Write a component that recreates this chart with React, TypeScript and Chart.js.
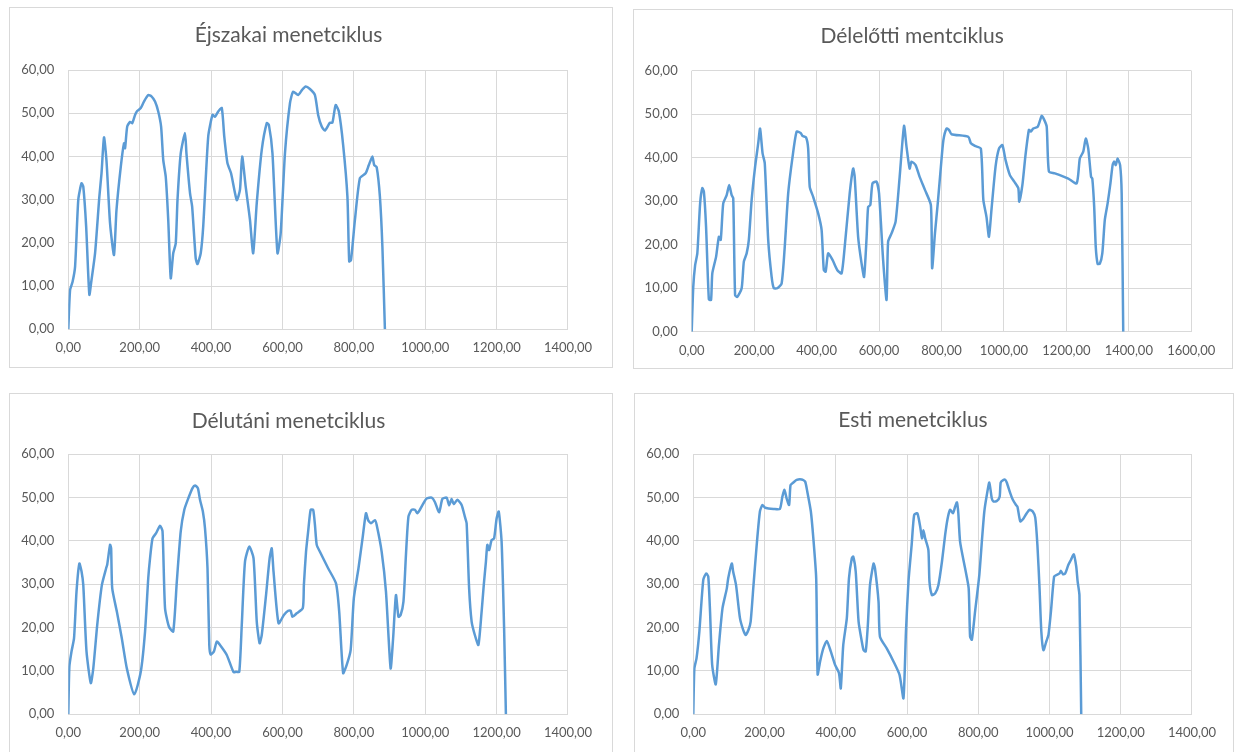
import React, { useEffect, useRef } from "react";
import { Chart, registerables } from "chart.js";

Chart.register(...registerables);

// Éjszakai menetciklus (night drive cycle): time [s] vs speed [km/h]
const nightX = [
  0, 5, 12, 19, 28, 37, 42, 50, 59, 65,
  75, 87, 93, 100, 107, 117, 128, 135, 147, 156,
  159, 165, 173, 179, 187, 193, 203, 212, 224, 233,
  243, 252, 260, 266, 273, 280, 287, 294, 301, 306,
  315, 327, 331, 341, 347, 357, 362, 371, 378, 392,
  404, 411, 420, 430, 437, 446, 456, 472, 481, 487,
  497, 509, 518, 528, 542, 556, 562, 572, 586, 595,
  607, 621, 630, 644, 655, 665, 677, 691, 700, 710,
  719, 733, 740, 749, 758, 770, 782, 787, 792, 803,
  817, 833, 842, 852, 857, 864, 873, 880, 887,
];
const nightY = [
  0, 9.1, 11, 14.5, 30, 33.8, 33, 23.8, 8, 11.4,
  17.6, 30.7, 36, 44.4, 39, 24.5, 17.2, 27.6, 37.6, 43,
  41.9, 46.9, 48, 47.7, 49.6, 50.5, 51.2, 52.7, 54.2, 53.9,
  52.7, 50.4, 46.9, 39.2, 35.3, 25.3, 11.8, 17.6, 19.9, 30,
  40.7, 45.4, 40.7, 31.5, 28.4, 16.4, 15.1, 17.6, 23.8, 44.6,
  49.6, 49.2, 50.4, 51.2, 44.6, 38.4, 36.1, 29.9, 32.3, 40,
  33, 25.3, 17.6, 29.2, 41.5, 47.7, 47.3, 40.7, 17.6, 22.2,
  40.7, 52.3, 55, 54.2, 55.4, 56.2, 55.6, 54.2, 49.6, 46.9,
  46, 47.8, 47.8, 51.9, 50.4, 42.7, 30.7, 15.7, 16, 25.3,
  35, 36.1, 38, 40, 38, 37.5, 30.7, 19.1, 0,
];

// Délelőtti menetciklus (forenoon drive cycle)
const morningX = [
  0, 5, 11, 18, 27, 34, 39, 46, 55, 62,
  66, 78, 87, 93, 101, 112, 120, 128, 133, 139,
  146, 160, 167, 176, 183, 192, 203, 213, 219, 227,
  234, 245, 256, 263, 274, 288, 298, 309, 323, 336,
  349, 355, 366, 373, 378, 389, 405, 416, 423, 429,
  437, 451, 466, 480, 490, 506, 517, 522, 533, 544,
  552, 560, 565, 572, 579, 592, 600, 613, 624, 629,
  640, 653, 666, 680, 688, 698, 704, 717, 730, 747,
  766, 770, 779, 788, 798, 806, 816, 824, 832, 886,
  894, 907, 926, 934, 944, 952, 960, 973, 984, 995,
  1005, 1019, 1033, 1046, 1049, 1059, 1069, 1080, 1086, 1094,
  1108, 1121, 1129, 1137, 1144, 1163, 1206, 1233, 1243, 1254,
  1262, 1270, 1279, 1283, 1289, 1294, 1300, 1307, 1315, 1323,
  1332, 1341, 1348, 1353, 1358, 1364, 1372, 1377, 1382,
];
const morningY = [
  0, 10.3, 15.3, 18, 29.5, 33, 32.2, 24.1, 7.4, 7.3,
  13.4, 17.2, 21.8, 21.1, 29.5, 31.4, 33.7, 31.4, 30.7, 8.4,
  8, 10, 16.1, 18, 21.1, 30.3, 37.9, 43.3, 46.7, 41,
  38.7, 21.1, 12.6, 10, 10, 11.1, 19.5, 31.8, 40.2, 46,
  45.7, 45, 44.7, 42.1, 33.3, 31, 27.2, 23.4, 14.2, 13.8,
  18, 16.5, 14.2, 13.4, 19.5, 31.8, 37.5, 35.6, 21.8, 15.7,
  12.6, 21.5, 28.7, 29.1, 34.1, 34.5, 31.8, 16.5, 7.3, 20.7,
  22.6, 25.3, 35.6, 47.3, 42.5, 37.5, 39.1, 38.3, 35.6, 32.6,
  29.1, 14.6, 22.6, 29.5, 37.9, 44, 46.7, 46.4, 45.4, 44.8,
  43.3, 42.7, 42.1, 30.3, 26.4, 21.8, 28, 37.9, 42.1, 42.9,
  39.5, 36, 34.5, 33, 29.9, 33.7, 40.6, 46.4, 46, 46.7,
  47.1, 49.6, 48.7, 47.1, 36.8, 36.4, 35.2, 34.1, 39.8, 41.4,
  44.4, 42.1, 35.6, 35.2, 28.7, 19.5, 15.6, 15.6, 18, 25.7,
  29.5, 34.1, 38.3, 39.1, 38.3, 39.8, 38.3, 31.8, 0,
];

// Délutáni menetciklus (afternoon drive cycle)
const afternoonX = [
  0, 3, 9, 16, 23, 31, 37, 42, 51, 63,
  70, 81, 94, 106, 109, 117, 120, 123, 136, 150,
  164, 185, 203, 215, 224, 229, 236, 246, 257, 264,
  271, 282, 294, 304, 315, 325, 336, 348, 355, 363,
  369, 377, 383, 390, 395, 399, 408, 416, 425, 444,
  463, 470, 479, 486, 495, 507, 519, 528, 536, 542,
  554, 564, 570, 575, 589, 604, 616, 623, 628, 640,
  657, 660, 666, 672, 679, 686, 691, 696, 705, 728,
  750, 759, 770, 780, 791, 800, 813, 825, 834, 840,
  848, 859, 864, 878, 890, 903, 910, 918, 925, 931,
  939, 946, 953, 962, 971, 978, 985, 995, 1004, 1018,
  1027, 1039, 1048, 1060, 1067, 1074, 1080, 1090, 1102, 1111,
  1116, 1123, 1130, 1139, 1149, 1158, 1164, 1170, 1174, 1179,
  1186, 1193, 1200, 1206, 1214, 1221, 1226,
];
const afternoonY = [
  0, 11, 14.5, 17.5, 28.3, 34.8, 33, 29.8, 14.5, 7.2,
  10.6, 20.6, 29.8, 33.7, 34.5, 39.1, 38.3, 29.1, 23.7, 17.5,
  10.6, 4.6, 9.8, 19.1, 31.4, 36, 40.6, 41.8, 43.5, 42.2,
  24.5, 20.2, 19.1, 30.6, 42.2, 47.2, 49.8, 52.2, 52.8, 52.2,
  49.5, 46.8, 42.9, 33.7, 16, 13.8, 14.5, 16.8, 16, 13.7,
  9.7, 9.8, 9.8, 20.6, 35.2, 38.7, 36, 21.4, 16.4, 18.3,
  27.5, 36, 38.3, 32.9, 21, 22.9, 23.9, 23.9, 22.5, 23.3,
  24.5, 29.8, 37.5, 42.2, 47.2, 47.2, 43.7, 39.1, 37.5, 33.7,
  30.2, 23.7, 9.5, 11.4, 14.8, 26.8, 33.7, 41, 46.4, 44.8,
  44.1, 44.8, 43.7, 37.5, 28.3, 10.6, 17.5, 27.5, 22.5, 22.9,
  26, 36.8, 45.6, 47.2, 47.2, 46.4, 47.2, 48.7, 49.8, 50,
  49, 46.6, 49.7, 50, 48.2, 49.7, 48.5, 49.5, 48.3, 45.6,
  44.1, 29, 21.4, 18.3, 16, 23.7, 29.8, 35.2, 39.1, 37.9,
  40.2, 40.6, 45.2, 46.8, 39.8, 19.8, 0,
];

// Esti menetciklus (evening drive cycle)
const eveningX = [
  0, 3, 9, 17, 28, 36, 42, 47, 53, 63,
  72, 82, 94, 98, 108, 112, 120, 131, 140, 147,
  155, 161, 169, 178, 187, 194, 201, 211, 225, 243,
  250, 256, 262, 269, 273, 281, 290, 304, 314, 320,
  330, 337, 345, 349, 356, 365, 375, 386, 398, 409,
  414, 421, 431, 437, 445, 449, 456, 464, 473, 478,
  484, 490, 496, 506, 510, 520, 524, 543, 562, 579,
  590, 597, 604, 613, 620, 629, 637, 642, 646, 651,
  660, 663, 670, 679, 688, 698, 707, 714, 721, 729,
  735, 740, 744, 749, 763, 773, 777, 782, 791, 803,
  810, 817, 824, 831, 838, 843, 852, 860, 863, 871,
  876, 880, 890, 897, 906, 910, 918, 927, 936, 944,
  953, 960, 966, 972, 977, 983, 991, 997, 1004, 1013,
  1021, 1028, 1032, 1038, 1044, 1053, 1060, 1068, 1075, 1079,
  1084, 1089,
];
const eveningY = [
  0, 10.6, 12.9, 19.1, 31, 32.5, 31.8, 23.7, 11.4, 6.9,
  16, 24.5, 29, 31.4, 34.8, 32.9, 29.8, 22.2, 19.5, 18.3,
  19.5, 21.4, 29.8, 39.1, 46.8, 48.3, 47.7, 47.5, 47.4, 47.4,
  50.2, 51.8, 49.8, 48.3, 52.9, 53.5, 54.1, 54.2, 53.7, 51.4,
  46.8, 40.6, 31.4, 9.2, 12.2, 15.2, 16.9, 14.5, 11.4, 9.5,
  6, 16, 22.2, 31.4, 36, 36.4, 32.9, 21.4, 16.8, 14.8,
  14.5, 20.6, 29.8, 34.8, 33.7, 26, 17.9, 15.2, 12.2, 9.1,
  3.7, 19.1, 30.6, 39.1, 46, 46.4, 43.3, 40.6, 42.5, 40.6,
  37.9, 30.6, 27.5, 27.9, 29.8, 35.2, 41.4, 45.2, 47.2, 46.4,
  47.9, 48.9, 46.4, 39.8, 33.7, 29.1, 17.9, 17.2, 23.7, 32.2,
  39.8, 46.8, 50.6, 53.5, 49.8, 49.1, 49.2, 50.2, 53.5, 54.1,
  54.1, 53.5, 51, 49.5, 48.3, 47.9, 44.5, 45.2, 46.4, 47.2,
  46.8, 45.4, 39.1, 29.1, 19.1, 14.8, 16.8, 18.3, 23.7, 31.8,
  32.2, 32.5, 33.1, 32.3, 32.5, 34.5, 35.6, 36.9, 34.1, 30.6,
  27.5, 0,
];

const Y_MAX = 60;
const Y_STEP = 10;
const X_STEP = 200;

const TEXT_COLOR = "#595959";
const GRID_COLOR = "#d9d9d9";
const LINE_COLOR = "#5b9bd5";
const FONT_FAMILY = "Lato, 'Open Sans', sans-serif";

const fmt = (v: number | string) => Number(v).toFixed(2).replace(".", ",");

type Rect = { left: number; top: number; width: number; height: number };

type PanelProps = {
  title: string;
  xs: number[];
  ys: number[];
  xMax: number;
  box: Rect;
  area: Rect; // plot area, relative to the box
  titleY: number; // title centre, relative to the box
};

function Panel({ title, xs, ys, xMax, box, area, titleY }: PanelProps) {
  const ref = useRef<HTMLCanvasElement | null>(null);

  useEffect(() => {
    if (!ref.current) return;
    const titleSize = 21;
    const titleLine = titleSize * 1.2;
    const padTop = titleY - titleLine / 2;
    const padBottom = area.top - padTop - titleLine;
    const rightPad = box.width - area.left - area.width;
    const bottomH = box.height - area.top - area.height;

    const chart = new Chart(ref.current, {
      type: "line",
      data: {
        datasets: [
          {
            data: xs.map((x, i) => ({ x, y: ys[i] })),
            borderColor: LINE_COLOR,
            borderWidth: 2.5,
            pointRadius: 0,
            tension: 0.2,
            fill: false,
          },
        ],
      },
      options: {
        animation: false,
        responsive: false,
        maintainAspectRatio: false,
        layout: { padding: { left: 0, right: rightPad, top: 0, bottom: 0 } },
        plugins: {
          legend: { display: false },
          tooltip: { enabled: false },
          title: {
            display: true,
            text: title,
            color: TEXT_COLOR,
            font: { family: FONT_FAMILY, size: titleSize, weight: "normal", lineHeight: 1.2 },
            padding: { top: padTop, bottom: padBottom },
          },
        },
        scales: {
          x: {
            type: "linear",
            min: 0,
            max: xMax,
            ticks: {
              stepSize: X_STEP,
              callback: (v) => fmt(v),
              color: TEXT_COLOR,
              font: { family: FONT_FAMILY, size: 13 },
              padding: 11,
              maxRotation: 0,
              autoSkip: false,
            },
            grid: { color: GRID_COLOR, drawTicks: false, lineWidth: 1 },
            border: { display: false },
            afterFit: (s: any) => {
              s.height = bottomH;
            },
          },
          y: {
            type: "linear",
            min: 0,
            max: Y_MAX,
            ticks: {
              stepSize: Y_STEP,
              callback: (v) => fmt(v),
              color: TEXT_COLOR,
              font: { family: FONT_FAMILY, size: 13 },
              padding: 14,
            },
            grid: { color: GRID_COLOR, drawTicks: false, lineWidth: 1 },
            border: { display: false },
            afterFit: (s: any) => {
              s.width = area.left;
            },
          },
        },
      },
    });
    return () => chart.destroy();
  }, [title, xs, ys, xMax, box, area, titleY]);

  return (
    <div
      style={{
        position: "absolute",
        left: box.left,
        top: box.top,
        width: box.width,
        height: box.height,
        background: "#ffffff",
      }}
    >
      <canvas
        ref={ref}
        width={box.width}
        height={box.height}
        style={{ position: "absolute", left: 0, top: 0, width: box.width, height: box.height }}
      />
      <div
        style={{
          position: "absolute",
          left: 0,
          top: 0,
          width: box.width,
          height: box.height,
          boxSizing: "border-box",
          border: `1px solid ${GRID_COLOR}`,
          pointerEvents: "none",
        }}
      />
    </div>
  );
}

const panels: PanelProps[] = [
  {
    title: "Éjszakai menetciklus",
    xs: nightX,
    ys: nightY,
    xMax: 1400,
    box: { left: 9, top: 7, width: 604, height: 361 },
    area: { left: 59.3, top: 63, width: 499.7, height: 259.3 },
    titleY: 28,
  },
  {
    title: "Délelőtti mentciklus",
    xs: morningX,
    ys: morningY,
    xMax: 1600,
    box: { left: 633, top: 9, width: 600, height: 360 },
    area: { left: 58.7, top: 61.7, width: 499.6, height: 261 },
    titleY: 27.7,
  },
  {
    title: "Délutáni menetciklus",
    xs: afternoonX,
    ys: afternoonY,
    xMax: 1400,
    box: { left: 9, top: 393, width: 604, height: 361 },
    area: { left: 59.3, top: 61.3, width: 499.7, height: 260 },
    titleY: 28.7,
  },
  {
    title: "Esti menetciklus",
    xs: eveningX,
    ys: eveningY,
    xMax: 1400,
    box: { left: 634, top: 393, width: 600, height: 361 },
    area: { left: 59.3, top: 61.3, width: 498.7, height: 260 },
    titleY: 27,
  },
];

export default function App() {
  return (
    <div
      style={{
        position: "fixed",
        left: 0,
        top: 0,
        width: 1235,
        height: 752,
        overflow: "hidden",
        background: "#ffffff",
      }}
    >
      {panels.map((p) => (
        <Panel key={p.title} {...p} />
      ))}
    </div>
  );
}
